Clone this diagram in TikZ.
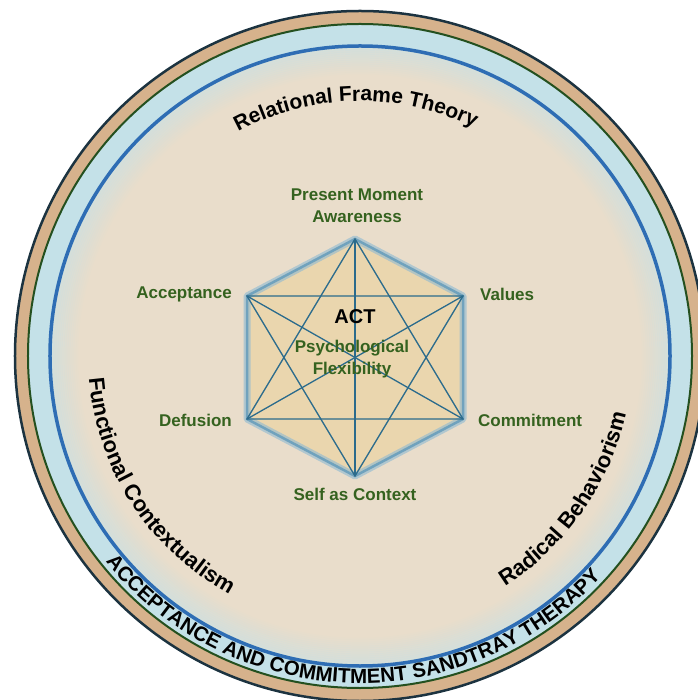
\documentclass[tikz,border=0pt]{standalone}
\usepackage{fontspec}
\setmainfont{Liberation Sans}
\usetikzlibrary{decorations.text}

\definecolor{sand}{HTML}{E9DDCB}
\definecolor{tanring}{HTML}{D6B28C}
\definecolor{bandblue}{HTML}{C4E1E8}
\definecolor{rimdark}{HTML}{1C3340}
\definecolor{rimgreen}{HTML}{24501F}
\definecolor{rimblue}{HTML}{2E6DB4}
\definecolor{hexfill}{HTML}{EAD6AE}
\definecolor{hexglow}{HTML}{8DB9D2}
\definecolor{hexline}{HTML}{2B6B8C}
\definecolor{leaf}{HTML}{35621F}

\begin{document}
\begin{tikzpicture}[x=1pt,y=1pt,
    lbl/.style={font=\bfseries\fontsize{17}{22}\selectfont, text=leaf, align=center, inner sep=0pt},
    edge/.style={hexline, line width=1.3pt},
    arctext/.style={decorate, decoration={text along path, text align=center, text={#1}}}]
      \useasboundingbox (-360,-344) rectangle (337,356);

      % Rings
        \fill[tanring] (0,0) circle[radius=345];
        \draw[rimdark, line width=2.5pt] (0,0) circle[radius=345];
        \fill[bandblue] (0,0) circle[radius=332];
        \draw[rimgreen, line width=2pt] (0,0) circle[radius=332];
        \fill[sand] (0,0) circle[radius=310];
        \foreach \i [evaluate=\i as \op using 0.55*(1-\i/14),
                     evaluate=\i as \rr using 309-2*\i] in {0,...,13}
          \draw[bandblue, opacity=\op, line width=2.2pt] (0,0) circle[radius=\rr];
        \draw[rimblue, line width=3.5pt] (0,0) circle[radius=310];

        % Hexagon corners
        \coordinate (pm) at (-5,117);
        \coordinate (val) at (103,60);
        \coordinate (com) at (103,-63);
        \coordinate (sac) at (-5,-120);
        \coordinate (def) at (-113,-63);
        \coordinate (acc) at (-113,60);

        \fill[hexfill] (pm) -- (val) -- (com) -- (sac) -- (def) -- (acc) -- cycle;
        \draw[hexglow, line width=7pt, opacity=0.6, line join=round] (pm) -- (val) -- (com) -- (sac) -- (def) -- (acc) -- cycle;
        \draw[hexglow!70!hexline, line width=2.5pt, line join=round] (pm) -- (val) -- (com) -- (sac) -- (def) -- (acc) -- cycle;

        % Star and diagonals
        \draw[edge] (pm) -- (com) -- (def) -- cycle;
        \draw[edge] (sac) -- (acc) -- (val) -- cycle;
        \draw[edge] (pm) -- (sac);
        \draw[edge] (acc) -- (com);
        \draw[edge] (val) -- (def);

        % Labels
        \node[lbl] (pma) at (-3,150) {Present Moment\\Awareness};
        \node[lbl, anchor=east] (acceptance) at (-128,62) {Acceptance};
        \node[lbl, anchor=west] (values) at (120,62) {Values};
        \node[lbl, anchor=east] (defusion) at (-128,-64) {Defusion};
        \node[lbl, anchor=west] (commitment) at (118,-64) {Commitment};
        \node[lbl] (self) at (-5,-138) {Self as Context};
        \node[font=\bfseries\fontsize{20}{24}\selectfont, inner sep=0pt] (act) at (-5,39) {ACT};
        \node[lbl] (flex) at (-8,-3) {Psychological\\Flexibility};

        % Curved texts
        \path[arctext={|\bfseries\fontsize{21}{24}\selectfont|Relational Frame Theory}]
          (136:255) arc[start angle=136, end angle=46, radius=255];
        \path[arctext={|\bfseries\fontsize{22}{26}\selectfont|Functional Contextualism}]
          (170:272) arc[start angle=170, end angle=256, radius=272];
        \path[arctext={|\bfseries\fontsize{22}{26}\selectfont|Radical Behaviorism}]
          (-78:272) arc[start angle=-78, end angle=8, radius=272];
        \path[arctext={|\bfseries\fontsize{20.5}{24}\selectfont|ACCEPTANCE AND COMMITMENT SANDTRAY THERAPY}]
          (206:327) arc[start angle=206, end angle=330.5, radius=327];

    \end{tikzpicture}
\end{document}
